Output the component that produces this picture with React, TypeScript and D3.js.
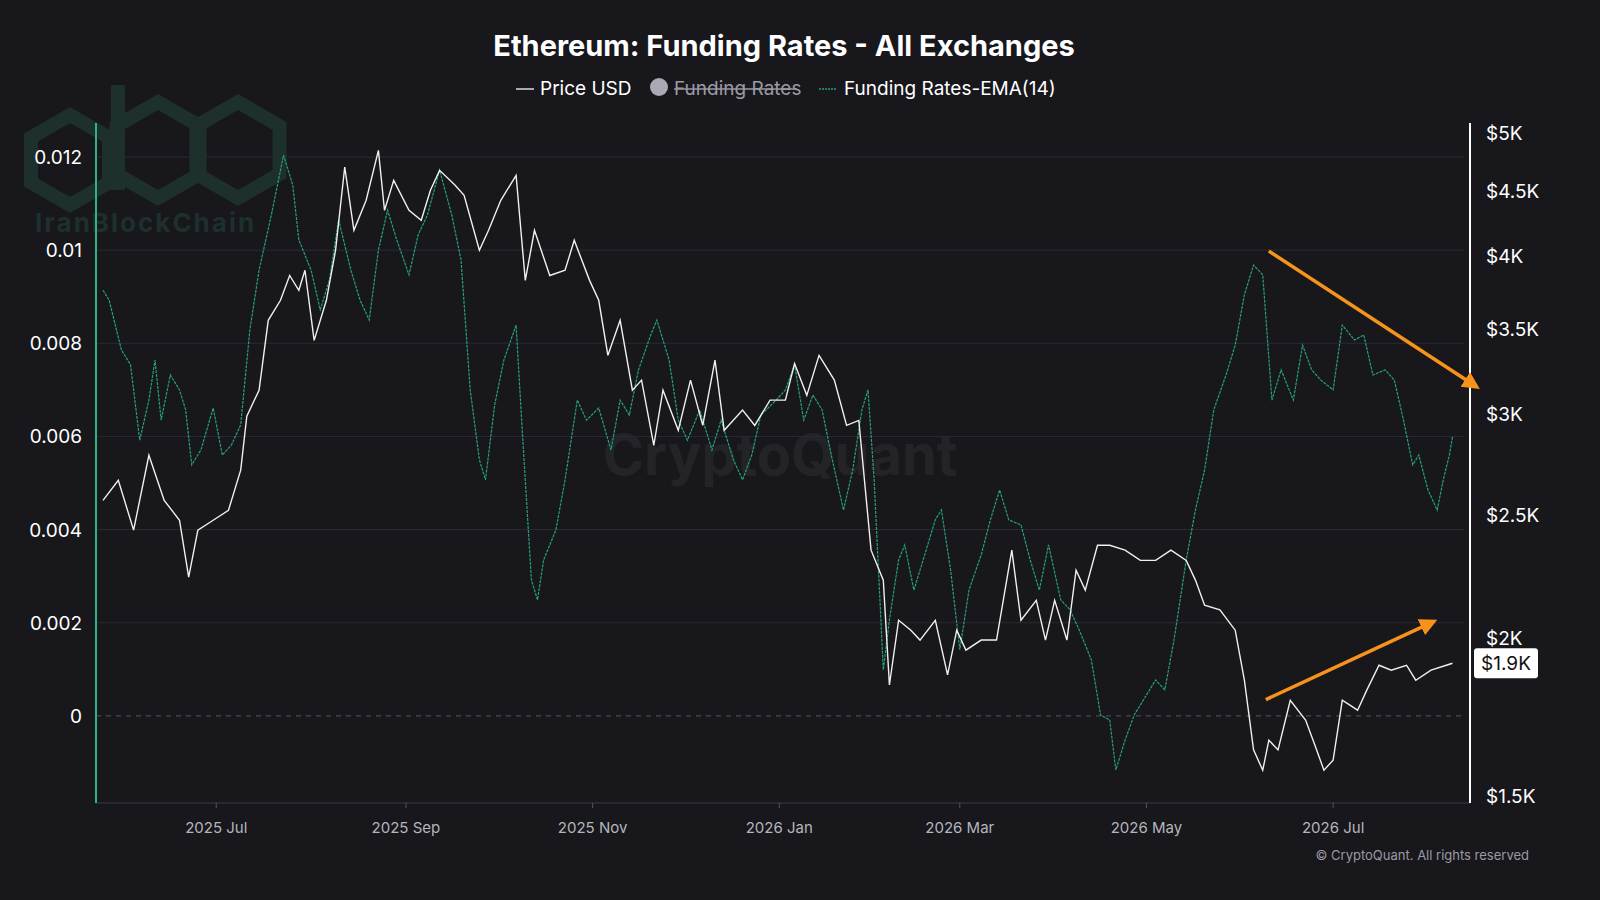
import * as d3 from "d3"

// days since 2025-05-25
const startDate = new Date(2025, 4, 25)

const priceDays = [0,5,10,15,20,25,28,31,36,41,45,47,51,54,58,61,64,66,69,73,76,79,82,86,90,92,95,100,104,107,110,115,118,123,126,130,135,138,141,146,151,154,159,162,165,169,173,176,180,183,188,192,196,200,203,209,213,218,223,226,230,234,239,243,247,251,255,257,260,264,267,272,276,279,282,287,292,297,300,305,308,311,315,318,321,325,329,334,339,344,349,354,357,360,365,370,373,376,379,381,384,388,393,396,399,402,405,410,413,417,421,426,429,434,439,441]
const priceUsd = [2566,2661,2431,2785,2566,2475,2232,2431,2475,2520,2711,2990,3134,3558,3690,3860,3758,3897,3431,3690,4041,4700,4190,4425,4845,4345,4588,4345,4267,4506,4672,4550,4465,4041,4190,4425,4630,3826,4190,3860,3897,4115,3826,3690,3339,3558,3134,3192,2836,3134,2914,3192,2940,3310,2914,3023,2940,3078,3078,3290,3105,3339,3192,2940,2967,2344,2220,1835,2064,2027,1991,2064,1869,2027,1955,1991,1991,2344,2064,2140,1991,2140,1991,2260,2180,2365,2365,2344,2301,2301,2344,2301,2220,2121,2103,2027,1851,1631,1572,1660,1631,1785,1722,1646,1572,1601,1785,1753,1818,1902,1885,1902,1851,1885,1902,1909]

const emaDays = [0,2,6,9,12,15,17,19,22,25,27,29,32,36,39,42,45,48,51,55,59,62,64,68,71,74,77,81,84,87,90,93,96,100,103,106,110,114,117,120,123,125,128,131,135,137,140,142,144,148,151,155,158,162,166,169,172,175,179,181,185,188,191,195,199,202,206,209,212,215,220,223,226,229,232,235,238,242,245,248,250,252,255,257,260,262,265,269,272,274,277,280,283,287,290,293,296,300,303,306,309,313,316,319,323,326,329,331,334,337,341,344,347,350,354,357,360,363,367,370,373,376,379,382,385,389,392,395,398,402,405,409,412,415,419,422,425,428,430,433,436,438,440,441]
const emaValues = [0.00914,0.00893,0.00786,0.00754,0.00592,0.00678,0.00764,0.00635,0.00732,0.007,0.00657,0.00539,0.00571,0.00661,0.0056,0.00582,0.00625,0.00829,0.00957,0.01075,0.01204,0.0114,0.01022,0.00957,0.00872,0.00936,0.01065,0.00957,0.00893,0.0085,0.01,0.01086,0.01022,0.00947,0.01033,0.01075,0.01172,0.01075,0.00979,0.007,0.0055,0.00507,0.00668,0.00764,0.00839,0.00614,0.00292,0.00249,0.00335,0.00399,0.00507,0.00678,0.00635,0.00661,0.00571,0.00678,0.00646,0.00743,0.00818,0.0085,0.00764,0.00635,0.00592,0.00657,0.00571,0.00635,0.0055,0.00507,0.0056,0.00646,0.00678,0.007,0.00754,0.00635,0.00689,0.00657,0.0056,0.00442,0.00528,0.00657,0.007,0.00507,0.00099,0.00206,0.00335,0.00367,0.0027,0.00356,0.00421,0.00442,0.00313,0.00142,0.0027,0.00346,0.00421,0.00485,0.00421,0.0041,0.00335,0.0027,0.00367,0.00249,0.00228,0.00185,0.0012,0.00002,-0.00009,-0.00116,-0.00052,0.00002,0.00045,0.00077,0.00056,0.00163,0.00335,0.00442,0.00528,0.00657,0.00732,0.00796,0.00904,0.00968,0.00947,0.00678,0.00743,0.00678,0.00796,0.00743,0.00721,0.007,0.00839,0.00807,0.00818,0.00732,0.00743,0.00721,0.00635,0.00539,0.0056,0.00485,0.00442,0.00507,0.0056,0.00599]

const leftTicks = [0, 0.002, 0.004, 0.006, 0.008, 0.01, 0.012]
const rightTicks = [1500, 2000, 2500, 3000, 3500, 4000, 4500, 5000]
const monthTicks = [new Date(2025,6,1), new Date(2025,8,1), new Date(2025,10,1), new Date(2026,0,1), new Date(2026,2,1), new Date(2026,4,1), new Date(2026,6,1)]

const toDate = (d: number) => d3.timeDay.offset(startDate, d)

// pointy-top hexagon path for the watermark logo
const hex = (cx: number, cy: number, r: number) =>
  d3.range(6).map((i) => {
    const a = (Math.PI / 3) * i - Math.PI / 2
    return `${i ? "L" : "M"}${cx + r * Math.cos(a)},${cy + r * Math.sin(a)}`
  }).join("") + "Z"

export default function App() {
  const W = 1600, H = 900
  const left = 96, right = 1470, top = 123, bottom = 803
  const x = d3.scaleTime().domain([startDate, toDate(448)]).range([103, 103 + 448 * 3.06])
  const yL = d3.scaleLinear().domain([-0.00187, 0.01273]).range([bottom, top])
  const yR = d3.scaleLog().domain([1500, 5000]).range([796, 133])

  const priceLine = d3.line<number>().x((_, i) => x(toDate(priceDays[i]))).y((v) => yR(v))
  const emaLine = d3.line<number>().x((_, i) => x(toDate(emaDays[i]))).y((v) => yL(v))
  const fmtMonth = d3.timeFormat("%Y %b")
  const fmtK = (v: number) => `$${d3.format("~")(v / 1000)}K`
  const font = "Inter, 'Noto Sans', sans-serif"
  const last = priceUsd[priceUsd.length - 1]

  return (
    <svg width={W} height={H} style={{ position: "absolute", left: 0, top: 0, background: "#17171c" }} fontFamily={font}>
      <defs>
        <marker id="ah" viewBox="0 0 10 10" refX="8" refY="5" markerWidth="5" markerHeight="5" orient="auto">
          <path d="M0,0L10,5L0,10z" fill="#f7931a" />
        </marker>
      </defs>
      <rect width={W} height={H} fill="#17171c" />
      {/* watermarks */}
      <g fill="none" stroke="#1d302d" strokeWidth={14}>
        <path d={hex(70, 160, 45)} />
        <path d={hex(158, 150, 48)} />
        <path d={hex(238, 150, 48)} />
        <path d="M118,85 L118,190" />
      </g>
      <text x={35} y={232} fontSize={26} fontWeight={700} fill="#1d302d" letterSpacing={2}>IranBlockChain</text>
      <text x={780} y={475} fontSize={56} fontWeight={700} fill="#ffffff" opacity={0.05} textAnchor="middle">CryptoQuant</text>

      <text x={784} y={56} fontSize={29} fontWeight={700} fill="#fff" textAnchor="middle">Ethereum: Funding Rates - All Exchanges</text>
      <g fontSize={19} fill="#fff">
        <line x1={516} x2={534} y1={89} y2={89} stroke="#ddd" strokeWidth={1.5} />
        <text x={540} y={95}>Price USD</text>
        <circle cx={659} cy={87} r={9} fill="#a9a9b3" />
        <text x={674} y={95} fill="#9a9aa3">Funding Rates</text>
        <line x1={674} x2={797} y1={89} y2={89} stroke="#9a9aa3" strokeWidth={1.5} />
        <line x1={819} x2={837} y1={89} y2={89} stroke="#2e9e75" strokeWidth={1.5} strokeDasharray="2,1" />
        <text x={844} y={95}>Funding Rates-EMA(14)</text>
      </g>

      {leftTicks.filter((t) => t !== 0).map((t) => (
        <line key={t} x1={left} x2={right - 6} y1={yL(t)} y2={yL(t)} stroke="#2a2a31" />
      ))}
      <line x1={left} x2={right - 6} y1={yL(0)} y2={yL(0)} stroke="#55555d" strokeDasharray="5,5" />
      <line x1={left} x2={right} y1={bottom} y2={bottom} stroke="#3a3a42" />
      <line x1={left} x2={left} y1={top} y2={bottom} stroke="#2fb386" strokeWidth={2} />
      <line x1={right} x2={right} y1={top} y2={bottom} stroke="#fff" strokeWidth={2} />

      {leftTicks.map((t) => (
        <text key={t} x={82} y={yL(t) + 7} fontSize={19} fill="#fff" textAnchor="end">{d3.format("~")(t)}</text>
      ))}
      {rightTicks.map((t) => (
        <text key={t} x={1486} y={yR(t) + 7} fontSize={19} fill="#fff">{fmtK(t)}</text>
      ))}
      {monthTicks.map((t) => (
        <g key={+t}>
          <line x1={x(t)} x2={x(t)} y1={bottom} y2={bottom + 5} stroke="#555" />
          <text x={x(t)} y={833} fontSize={15} fill="#b5b5bd" textAnchor="middle">{fmtMonth(t)}</text>
        </g>
      ))}

      <path d={emaLine(emaValues) ?? ""} fill="none" stroke="#26a17b" strokeWidth={1.2} strokeDasharray="3,1" />
      <path d={priceLine(priceUsd) ?? ""} fill="none" stroke="#f0f0f0" strokeWidth={1.4} />

      <line x1={x(toDate(381))} y1={yL(0.00998)} x2={x(toDate(449))} y2={yL(0.00706)} stroke="#f7931a" strokeWidth={3.5} markerEnd="url(#ah)" />
      <line x1={x(toDate(380))} y1={yR(1787)} x2={x(toDate(435))} y2={yR(2060)} stroke="#f7931a" strokeWidth={3.5} markerEnd="url(#ah)" />

      <rect x={1474} y={yR(last) - 15} width={64} height={30} rx={3} fill="#fff" />
      <text x={1506} y={yR(last) + 7} fontSize={19} fill="#111" textAnchor="middle">{fmtK(Math.round(last / 100) * 100)}</text>

      <text x={1529} y={860} fontSize={13} fill="#9a9aa3" textAnchor="end">© CryptoQuant. All rights reserved</text>
    </svg>
  )
}
